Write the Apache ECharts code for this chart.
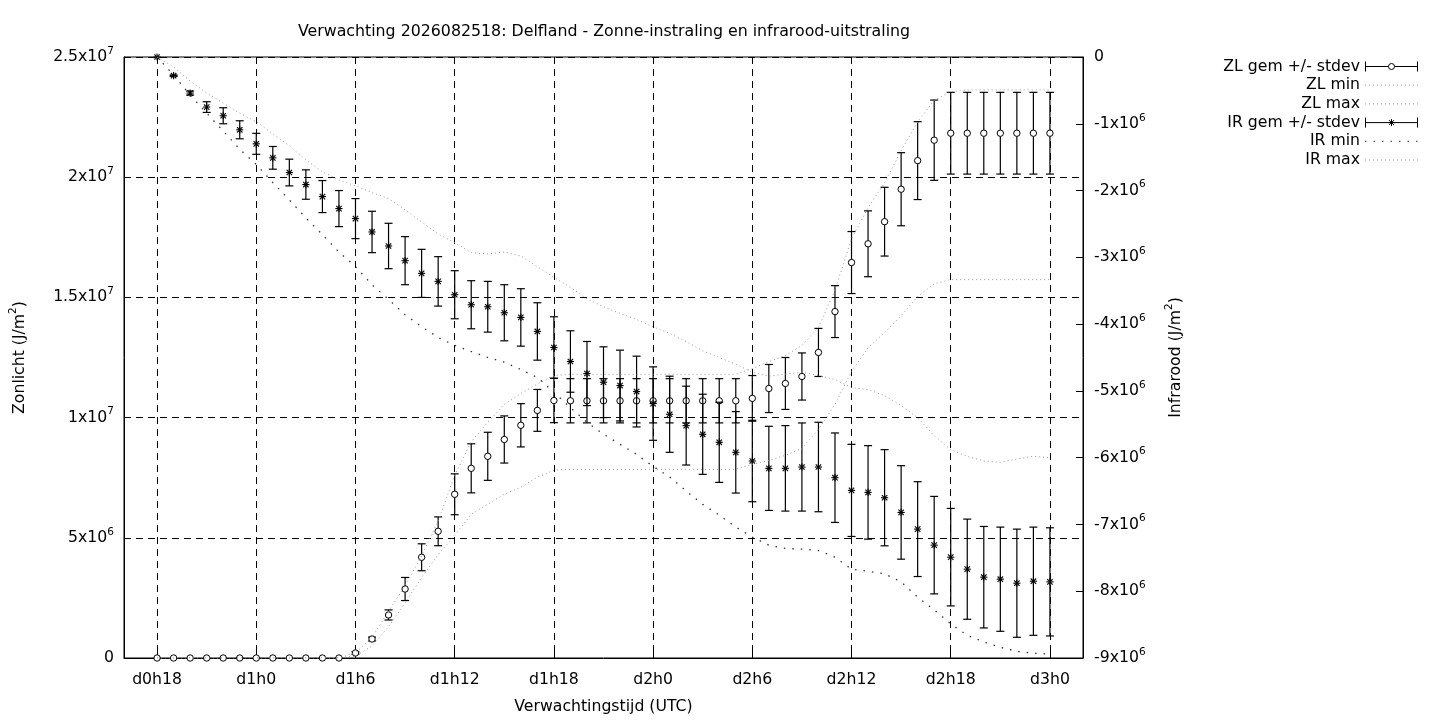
<!DOCTYPE html>
<html>
<head>
<meta charset="utf-8">
<title>Delfland - Zonne-instraling en infrarood-uitstraling</title>
<script src="https://cdn.jsdelivr.net/npm/echarts@6/dist/echarts.min.js"></script>
<style>
html, body { margin: 0; padding: 0; background: #fff; }
#chart { width: 1440px; height: 720px; }
</style>
</head>
<body>
<div id="chart"></div>
<script>
// hours since d0h18, one point per hour
var hours = [0, 1, 2, 3, 4, 5, 6, 7, 8, 9, 10, 11, 12, 13, 14, 15, 16, 17, 18, 19, 20,
  21, 22, 23, 24, 25, 26, 27, 28, 29, 30, 31, 32, 33, 34, 35, 36, 37, 38, 39, 40,
  41, 42, 43, 44, 45, 46, 47, 48, 49, 50, 51, 52, 53, 54];

var xTickValues = [0, 6, 12, 18, 24, 30, 36, 42, 48, 54];
var xTickLabels = ['d0h18', 'd1h0', 'd1h6', 'd1h12', 'd1h18', 'd2h0', 'd2h6', 'd2h12', 'd2h18', 'd3h0'];

// values in 10^6 J/m2
var leftTickValues = [0, 5, 10, 15, 20, 25];
var leftTickLabels = ['0', '5x10^6', '1x10^7', '1.5x10^7', '2x10^7', '2.5x10^7'];
var rightTickValues = [-9, -8, -7, -6, -5, -4, -3, -2, -1, 0];
var rightTickLabels = ['-9x10^6', '-8x10^6', '-7x10^6', '-6x10^6', '-5x10^6', '-4x10^6',
  '-3x10^6', '-2x10^6', '-1x10^6', '0'];

// zonlicht (ZL)
var zlMean = [0, 0, 0, 0, 0, 0, 0, 0, 0, 0, 0, 0,
  0.21, 0.79, 1.79, 2.87, 4.19, 5.27, 6.81, 7.89, 8.39, 9.09, 9.68, 10.3, 10.71,
  10.7, 10.7, 10.7, 10.7, 10.7, 10.7, 10.7, 10.7, 10.7, 10.7, 10.7,
  10.8, 11.21, 11.42, 11.71, 12.71, 14.41, 16.45, 17.23, 18.15, 19.5, 20.69, 21.54,
  21.83, 21.83, 21.83, 21.83, 21.83, 21.83, 21.83];
var zlSd = [0, 0, 0, 0, 0, 0, 0, 0, 0, 0, 0, 0,
  0.05, 0.08, 0.21, 0.48, 0.56, 0.6, 0.85, 1.02, 1.0, 0.98, 0.9, 0.87, 0.92,
  0.92, 0.92, 0.92, 0.92, 0.92, 0.92, 0.92, 0.92, 0.92, 0.92, 0.92,
  0.95, 1.0, 1.08, 0.98, 1.0, 1.08, 1.29, 1.37, 1.43, 1.52, 1.62, 1.67,
  1.7, 1.7, 1.7, 1.7, 1.7, 1.7, 1.7];
var zlMin = [0, 0, 0, 0, 0, 0, 0, 0, 0, 0, 0, 0,
  0.08, 0.5, 1.3, 2.3, 3.35, 4.3, 5.1, 5.98, 6.4, 6.81, 7.1, 7.52, 7.81,
  7.85, 7.85, 7.85, 7.85, 7.85, 7.85, 7.85, 7.85, 7.85, 7.85, 7.85,
  8.06, 8.22, 8.43, 8.72, 9.51, 10.55, 11.92, 12.9, 13.54, 14.24, 15.03, 15.57,
  15.74, 15.74, 15.74, 15.74, 15.74, 15.74, 15.74];
var zlMax = [0, 0, 0, 0, 0, 0, 0, 0, 0, 0, 0, 0,
  0.22, 0.85, 1.95, 3.0, 4.25, 5.7, 7.6, 9.0, 9.8, 10.55, 11.0, 11.4, 11.75,
  11.8, 11.8, 11.8, 11.8, 11.8, 11.8, 11.8, 11.8, 11.8, 11.8, 11.8,
  12.04, 12.33, 12.58, 13.0, 13.75, 15.3, 17.44, 18.73, 19.77, 21.1, 22.3, 23.2,
  23.55, 23.63, 23.63, 23.63, 23.63, 23.63, 23.63];

// infrarood (IR)
var irMean = [0, -0.28, -0.54, -0.75, -0.88, -1.09, -1.30, -1.51, -1.73, -1.91, -2.09,
  -2.27, -2.42, -2.62, -2.83, -3.05, -3.24, -3.36, -3.56, -3.71, -3.74,
  -3.83, -3.90, -4.11, -4.35, -4.56, -4.74, -4.87, -4.92, -5.01, -5.19,
  -5.35, -5.52, -5.65, -5.77, -5.92, -6.05, -6.16, -6.16, -6.14, -6.14,
  -6.30, -6.49, -6.52, -6.60, -6.82, -7.07, -7.31, -7.49, -7.67, -7.79,
  -7.82, -7.88, -7.85, -7.86];
var irSd = [0, 0.01, 0.03, 0.08, 0.12, 0.135, 0.157, 0.17, 0.2, 0.22, 0.24,
  0.27, 0.3, 0.31, 0.34, 0.36, 0.36, 0.37, 0.36, 0.36, 0.38,
  0.42, 0.43, 0.43, 0.46, 0.46, 0.48, 0.53, 0.53, 0.53, 0.55,
  0.57, 0.59, 0.6, 0.6, 0.61, 0.61, 0.63, 0.64, 0.66, 0.67,
  0.67, 0.69, 0.7, 0.72, 0.7, 0.71, 0.73, 0.73, 0.75, 0.76,
  0.78, 0.81, 0.81, 0.81];
var irMin = [0, -0.27, -0.57, -0.84, -1.11, -1.38, -1.61, -1.88, -2.14, -2.41, -2.66,
  -2.92, -3.14, -3.41, -3.63, -3.86, -4.04, -4.2, -4.32, -4.41, -4.50,
  -4.57, -4.68, -4.80, -5.02, -5.25, -5.47, -5.65, -5.80, -5.95, -6.13,
  -6.29, -6.50, -6.70, -6.86, -7.04, -7.19, -7.31, -7.36, -7.37, -7.39,
  -7.49, -7.67, -7.70, -7.74, -7.86, -8.09, -8.28, -8.49, -8.66, -8.76,
  -8.84, -8.90, -8.93, -8.94];
var irMax = [0, -0.15, -0.36, -0.54, -0.69, -0.84, -0.97, -1.15, -1.33, -1.54, -1.72,
  -1.84, -1.93, -2.03, -2.12, -2.29, -2.47, -2.65, -2.78, -2.93, -2.95,
  -2.92, -2.98, -3.14, -3.30, -3.45, -3.62, -3.74, -3.84, -3.93, -4.04,
  -4.14, -4.26, -4.40, -4.50, -4.60, -4.72, -4.78, -4.75, -4.72, -4.77,
  -4.83, -4.95, -4.98, -5.07, -5.22, -5.40, -5.67, -5.88, -5.98, -6.05,
  -6.07, -6.02, -5.98, -6.0];

var font = 'DejaVu Sans';
var fs = 15.7;
var richSup = {
  b: { fontFamily: font, fontSize: fs, color: '#000', lineHeight: 23 },
  s: { fontFamily: font, fontSize: 10.5, color: '#000', verticalAlign: 'top' }
};

function toRich(label) {
  var parts = label.split('^');
  if (parts.length > 1) return '{b|' + parts[0] + '}{s|' + parts[1] + '}';
  return '{b|' + label + '}';
}

function tickFormatter(values, labels) {
  return function (v) {
    for (var i = 0; i < values.length; i++) {
      if (Math.abs(values[i] - v) < 1e-6) return toRich(labels[i]);
    }
    return '';
  };
}

function pairs(ys) {
  return hours.map(function (h, i) { return [h, ys[i]]; });
}

function triples(means, sds) {
  return hours.map(function (h, i) { return [h, means[i], sds[i]]; });
}

function errorBar(marker) {
  return function (params, api) {
    var x = api.value(0), m = api.value(1), s = api.value(2);
    var p = api.coord([x, m]);
    var hi = api.coord([x, m + s]);
    var lo = api.coord([x, m - s]);
    var cap = 4;
    var kids = [];
    if (s > 0) {
      kids.push({ type: 'line', shape: { x1: p[0], y1: hi[1], x2: p[0], y2: lo[1] }, style: { stroke: '#000', lineWidth: 1.2 } });
      kids.push({ type: 'line', shape: { x1: p[0] - cap, y1: hi[1], x2: p[0] + cap, y2: hi[1] }, style: { stroke: '#000', lineWidth: 1.2 } });
      kids.push({ type: 'line', shape: { x1: p[0] - cap, y1: lo[1], x2: p[0] + cap, y2: lo[1] }, style: { stroke: '#000', lineWidth: 1.2 } });
    }
    if (marker === 'circle') {
      kids.push({ type: 'circle', shape: { cx: p[0], cy: p[1], r: 3.2 }, style: { fill: '#fff', stroke: '#000', lineWidth: 1 } });
    } else {
      var a = 3.6, d = 2.7;
      [[0, a], [a, 0], [d, d], [d, -d]].forEach(function (v) {
        kids.push({ type: 'line', shape: { x1: p[0] - v[0], y1: p[1] - v[1], x2: p[0] + v[0], y2: p[1] + v[1] }, style: { stroke: '#000', lineWidth: 1.1 } });
      });
    }
    return { type: 'group', children: kids };
  };
}

var lightDots = { color: '#999', width: 1, type: [1, 3] };
var darkDots = { color: '#333', width: 1.3, type: [1.5, 7] };
var plainText = { fontFamily: font, fontSize: fs, color: '#000' };
var noSymbol = { color: 'rgba(0,0,0,0)', borderWidth: 0, opacity: 0 };

var chart = echarts.init(document.getElementById('chart'));
var option = {
  animation: false,
  backgroundColor: '#fff',
  title: {
    text: 'Verwachting 2026082518: Delfland - Zonne-instraling en infrarood-uitstraling',
    left: 599, top: 19, textAlign: 'center',
    textStyle: { fontFamily: font, fontSize: 15.8, fontWeight: 'normal', color: '#000' }
  },
  legend: {
    orient: 'vertical', right: 20, top: 58.5, align: 'right', padding: 0,
    itemWidth: 53, itemHeight: 10, itemGap: 2.7, selectedMode: false,
    textStyle: { fontFamily: font, fontSize: fs, color: '#000', lineHeight: 16 },
    lineStyle: { width: 1 },
    data: [
      { name: 'ZL gem +/- stdev', icon: 'path://M0,0L0,10M0,5L23,5M29,5L52,5M52,0L52,10M29,5A3,3,0,1,1,23,5A3,3,0,1,1,29,5',
        itemStyle: { color: 'none', borderColor: '#000', borderWidth: 1 } },
      { name: 'ZL min', itemStyle: noSymbol },
      { name: 'ZL max', itemStyle: noSymbol },
      { name: 'IR gem +/- stdev', icon: 'path://M0,0L0,10M0,5L52,5M52,0L52,10M26,1.5L26,8.5M22.5,5L29.5,5M23.5,2.5L28.5,7.5M28.5,2.5L23.5,7.5',
        itemStyle: { color: 'none', borderColor: '#000', borderWidth: 1 } },
      { name: 'IR min', itemStyle: noSymbol },
      { name: 'IR max', itemStyle: noSymbol }
    ]
  },
  grid: { left: 124, right: 357, top: 57, bottom: 61, show: true, borderColor: '#000', borderWidth: 1 },
  xAxis: {
    type: 'value', min: -2, max: 56,
    axisLine: { onZero: false, lineStyle: { color: '#000' } },
    axisTick: { inside: true, length: 7, customValues: xTickValues, lineStyle: { color: '#000' } },
    axisLabel: {
      customValues: xTickValues, margin: 14, fontFamily: font, fontSize: fs, color: '#000',
      formatter: function (v) { return xTickLabels[xTickValues.indexOf(v)] || ''; }
    },
    splitLine: { show: true, lineStyle: { color: '#000', width: 1, type: [7, 5] } },
    name: 'Verwachtingstijd (UTC)', nameLocation: 'middle', nameGap: 41, nameTextStyle: plainText
  },
  yAxis: [
    {
      type: 'value', min: 0, max: 25, interval: 5, position: 'left',
      axisLine: { show: true, onZero: false, lineStyle: { color: '#000' } },
      axisTick: { show: true, inside: true, length: 7, lineStyle: { color: '#000' } },
      axisLabel: { margin: 10, showMinLabel: true, showMaxLabel: true, formatter: tickFormatter(leftTickValues, leftTickLabels), rich: richSup },
      splitLine: { show: true, lineStyle: { color: '#000', width: 1, type: [7, 5] } },
      name: '{b|Zonlicht (J/m}{s|2}{b|)}', nameLocation: 'middle', nameGap: 93,
      nameTextStyle: { rich: richSup }
    },
    {
      type: 'value', min: -9, max: 0, interval: 1, position: 'right',
      axisLine: { show: true, onZero: false, lineStyle: { color: '#000' } },
      axisTick: { show: true, inside: true, length: 7, lineStyle: { color: '#000' } },
      axisLabel: { margin: 11, showMinLabel: true, showMaxLabel: true, formatter: tickFormatter(rightTickValues, rightTickLabels), rich: richSup },
      splitLine: { show: false },
      name: '{b|Infrarood (J/m}{s|2}{b|)}', nameLocation: 'middle', nameGap: 81,
      nameTextStyle: { rich: richSup }
    }
  ],
  series: [
    {
      name: 'ZL gem +/- stdev', type: 'custom', yAxisIndex: 0, clip: false,
      itemStyle: { color: '#000' }, encode: { x: 0, y: 1 },
      renderItem: errorBar('circle'), data: triples(zlMean, zlSd)
    },
    { name: 'ZL min', type: 'line', yAxisIndex: 0, symbol: 'none', lineStyle: lightDots, itemStyle: { color: '#999' }, data: pairs(zlMin) },
    { name: 'ZL max', type: 'line', yAxisIndex: 0, symbol: 'none', lineStyle: lightDots, itemStyle: { color: '#999' }, data: pairs(zlMax) },
    {
      name: 'IR gem +/- stdev', type: 'custom', yAxisIndex: 1, clip: false,
      itemStyle: { color: '#000' }, encode: { x: 0, y: 1 },
      renderItem: errorBar('star'), data: triples(irMean, irSd)
    },
    { name: 'IR min', type: 'line', yAxisIndex: 1, symbol: 'none', lineStyle: darkDots, itemStyle: { color: '#333' }, data: pairs(irMin) },
    { name: 'IR max', type: 'line', yAxisIndex: 1, symbol: 'none', lineStyle: lightDots, itemStyle: { color: '#999' }, data: pairs(irMax) }
  ]
};
chart.setOption(option);
</script>
</body>
</html>
